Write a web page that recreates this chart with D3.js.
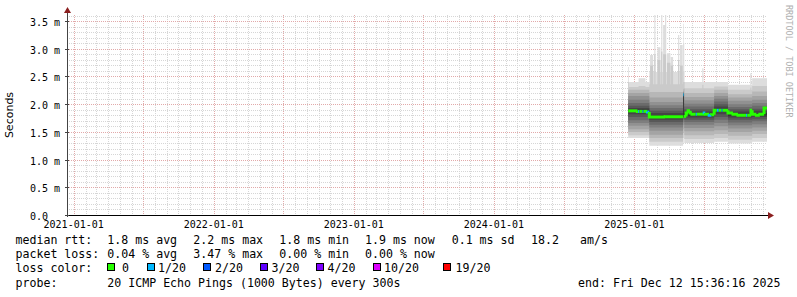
<!DOCTYPE html>
<html>
<head>
<meta charset="utf-8">
<script src="https://cdn.jsdelivr.net/npm/d3@7.9.0/dist/d3.min.js"></script>
<style>
  body { margin: 0; background: #fff; }
  svg { display: block; }
  text { font-family: "DejaVu Sans Mono", monospace; fill: #000; }
</style>
</head>
<body>
<svg id="chart" width="797" height="297"></svg>
<script>
const parse = d3.timeParse("%Y-%m-%dT%H:%M:%S");
const day = s => parse(s.length === 10 ? s + "T00:00:00" : s);

const viewStart = "2020-12-14T15:36:16";
const viewEnd = "2025-12-12T15:36:16";

const yTicks = [0, 0.5, 1.0, 1.5, 2.0, 2.5, 3.0, 3.5];
const yTickLabels = ["0.0", "0.5 m", "1.0 m", "1.5 m", "2.0 m", "2.5 m", "3.0 m", "3.5 m"];

// smoke: 20 sorted pings per period (ms)
const segStart = ["2024-12-16", "2025-02-09", "2025-05-08", "2025-05-09T12:00:00", "2025-07-28", "2025-09-02", "2025-11-04"];
const segPings = [
  [1.39, 1.44, 1.50, 1.55, 1.61, 1.66, 1.71, 1.77, 1.82, 1.86, 1.90, 1.93, 1.97, 2.02, 2.08, 2.15, 2.20, 2.26, 2.31, 2.40],
  [1.25, 1.32, 1.39, 1.45, 1.52, 1.58, 1.63, 1.68, 1.72, 1.76, 1.80, 1.84, 1.88, 1.93, 1.98, 2.04, 2.12, 2.22, 2.36, 2.58],
  [1.30, 1.40, 1.48, 1.55, 1.62, 1.67, 1.71, 1.74, 1.76, 1.77, 2.17, 2.18, 2.19, 2.20, 2.21, 2.22, 2.23, 2.24, 2.26, 3.45],
  [1.78, 1.78, 1.78, 1.78, 1.78, 1.78, 1.78, 1.78, 1.78, 1.78, 1.84, 1.90, 1.96, 2.02, 2.10, 2.18, 2.28, 2.40, 2.60, 3.10],
  [1.32, 1.39, 1.46, 1.53, 1.60, 1.66, 1.72, 1.77, 1.82, 1.86, 1.92, 1.96, 2.00, 2.05, 2.10, 2.15, 2.20, 2.26, 2.32, 2.40],
  [1.29, 1.36, 1.43, 1.50, 1.56, 1.62, 1.67, 1.72, 1.76, 1.79, 1.83, 1.87, 1.91, 1.95, 2.00, 2.06, 2.12, 2.18, 2.26, 2.35],
  [1.32, 1.39, 1.46, 1.52, 1.58, 1.64, 1.69, 1.73, 1.77, 1.80, 1.84, 1.88, 1.92, 1.97, 2.02, 2.08, 2.15, 2.23, 2.33, 2.47]
];
// segment C (after the gap column)
const segCPings = [1.30, 1.37, 1.44, 1.51, 1.57, 1.63, 1.68, 1.72, 1.76, 1.79, 1.83, 1.87, 1.91, 1.96, 2.01, 2.07, 2.13, 2.20, 2.29, 2.40];
const segCStart = "2025-05-11";

// short spikes of the slowest pings
const spikeDate = ["2024-12-16", "2025-01-12", "2025-02-11", "2025-02-22", "2025-03-02", "2025-03-12", "2025-03-17", "2025-03-22",
                   "2025-03-27", "2025-04-06", "2025-04-25", "2025-04-30", "2025-06-27", "2025-10-30"];
const spikeDays = [2, 18, 8, 3, 8, 3, 5, 3, 9, 6, 3, 7, 3, 3];
const spikeP19 = [2.40, 2.33, 2.70, 2.90, 2.80, 2.95, 2.90, 2.90, 2.75, 2.70, 2.80, 2.70, 2.35, 2.30];
const spikeP20 = [2.67, 2.47, 2.89, 3.61, 3.03, 3.61, 3.43, 3.61, 2.92, 2.85, 3.25, 3.07, 2.65, 2.56];

// median rtt (ms) and lost pings out of 20
const medDate = ["2024-12-16", "2025-01-09", "2025-01-11", "2025-01-14", "2025-01-22", "2025-01-25", "2025-02-04",
                 "2025-02-09", "2025-03-22", "2025-05-08", "2025-05-09T12:00:00", "2025-05-16", "2025-05-21", "2025-05-26",
                 "2025-05-31", "2025-06-10", "2025-06-13", "2025-07-02", "2025-07-05", "2025-07-15", "2025-07-21",
                 "2025-07-28", "2025-08-04", "2025-08-09", "2025-08-16", "2025-08-19", "2025-09-02", "2025-09-15",
                 "2025-09-28", "2025-10-19", "2025-10-22", "2025-11-01", "2025-11-04", "2025-11-15", "2025-11-24", "2025-12-05"];
const medValue = [1.88, 1.87, 1.87, 1.87, 1.87, 1.87, 1.86,
                  1.77, 1.775, 2.17, 1.78, 1.84, 1.88, 1.84,
                  1.82, 1.82, 1.82, 1.84, 1.82, 1.80, 1.81,
                  1.89, 1.89, 1.89, 1.89, 1.89, 1.84, 1.82,
                  1.80, 1.80, 1.80, 1.89, 1.82, 1.80, 1.82, 1.93];
const medLoss = [0, 0, 1, 0, 1, 0, 1,
                 0, 0, 1, 0, 0, 0, 0,
                 0, 1, 0, 1, 0, 1, 0,
                 0, 1, 0, 1, 0, 0, 0,
                 0, 1, 0, 0, 0, 0, 0, 0];

const lossLevels = [0, 1, 2, 3, 4, 10, 19];
const lossLabels = ["0", "1/20", "2/20", "3/20", "4/20", "10/20", "19/20"];
const lossColors = ["#26ff00", "#00b8ff", "#0059ff", "#5e00ff", "#7e00ff", "#dd00ff", "#ff0000"];

const rttStats = ["1.8 ms avg", "2.2 ms max", "1.8 ms min", "1.9 ms now", "0.1 ms sd", "18.2", "am/s"];
const lossStats = ["0.04 % avg", "3.47 % max", "0.00 % min", "0.00 % now"];
const probeText = "20 ICMP Echo Pings (1000 Bytes) every 300s";
const endText = "end: Fri Dec 12 15:36:16 2025";

const svg = d3.select("#chart");
const plotL = 67, plotR = 767, plotT = 15, plotB = 215;

const x = d3.scaleTime().domain([day(viewStart), day(viewEnd)]).range([plotL, plotR]);
const y = d3.scaleLinear().domain([0, 3.61]).range([plotB, plotT]);

// grid
const grid = svg.append("g");
const months = d3.timeMonth.range(x.domain()[0], x.domain()[1]);
months.forEach(m => {
  const major = m.getMonth() % 6 === 0;
  const px = Math.round(x(m)) + 0.5;
  grid.append("line")
    .attr("x1", px).attr("x2", px).attr("y1", plotT).attr("y2", plotB)
    .attr("stroke", major ? "#e2aaaa" : "#d6d6d6")
    .attr("stroke-dasharray", "1,1");
});
d3.range(1, 37).forEach(i => {
  const v = i / 10;
  const major = i % 5 === 0;
  const py = Math.round(y(v)) + 0.5;
  grid.append("line")
    .attr("x1", plotL).attr("x2", plotR).attr("y1", py).attr("y2", py)
    .attr("stroke", major ? "#e2aaaa" : "#d6d6d6")
    .attr("stroke-dasharray", "1,1");
});

// build smoke samples
const samples = [];
segStart.forEach((s, i) => samples.push({ date: day(s), pings: segPings[i] }));
samples.push({ date: day(segCStart), pings: segCPings });
samples.sort((a, b) => a.date - b.date);
function baseAt(d) {
  let p = samples[0].pings;
  samples.forEach(s => { if (s.date <= d) p = s.pings; });
  return p;
}
const extra = [];
spikeDate.forEach((s, i) => {
  const d0 = day(s);
  const d1 = d3.timeDay.offset(d0, spikeDays[i]);
  const base = baseAt(d0);
  const p = base.slice();
  p[18] = Math.max(spikeP19[i], p[17]);
  p[19] = spikeP20[i];
  extra.push({ date: d0, pings: p, order: 1 });
  extra.push({ date: d1, pings: baseAt(d1), order: 0 });
});
const all = samples.map(s => ({ ...s, order: 0 })).concat(extra);
all.push({ date: day(viewEnd), pings: segPings[segPings.length - 1], order: 0 });
all.sort((a, b) => (a.date - b.date) || (a.order - b.order));

const smoke = svg.append("g");
for (let k = 0; k < 10; k++) {
  const g = Math.floor(190 / 10 * (10 - (k + 1))) + 50;
  const area = d3.area()
    .x(d => x(d.date))
    .y0(d => y(d.pings[k]))
    .y1(d => y(d.pings[19 - k]))
    .curve(d3.curveStepAfter);
  smoke.append("path")
    .datum(all)
    .attr("d", area)
    .attr("fill", d3.rgb(g, g, g));
}

// median
const lossColor = l => {
  let c = lossColors[0];
  lossLevels.forEach((lv, i) => { if (l >= lv) c = lossColors[i]; });
  return c;
};
const medLine = d3.line().x(d => x(d[0])).y(d => y(d[1]));
const med = svg.append("g");
medDate.forEach((s, i) => {
  const d0 = day(s);
  const d1 = i + 1 < medDate.length ? day(medDate[i + 1]) : day(viewEnd);
  const pts = [];
  if (i > 0 && Math.abs(medValue[i] - medValue[i - 1]) < 0.15) pts.push([d0, medValue[i - 1]]);
  pts.push([d0, medValue[i]], [d1, medValue[i]]);
  med.append("path")
    .attr("d", medLine(pts))
    .attr("fill", "none")
    .attr("stroke", lossColor(medLoss[i]))
    .attr("stroke-width", 3);
});

// axes
svg.append("line").attr("x1", plotL - 2).attr("x2", plotR + 3).attr("y1", plotB + 0.5).attr("y2", plotB + 0.5)
  .attr("stroke", "#000");
svg.append("line").attr("x1", plotL + 0.5).attr("x2", plotL + 0.5).attr("y1", plotB + 2).attr("y2", 10)
  .attr("stroke", "#444");
svg.append("path").attr("d", `M${plotR + 1},${plotB - 3} L${plotR + 7},${plotB + 0.5} L${plotR + 1},${plotB + 4} Z`)
  .attr("fill", "#8b1f1f");
svg.append("path").attr("d", `M${plotL - 3},${plotT - 2} L${plotL + 0.5},${plotT - 8} L${plotL + 4},${plotT - 2} Z`)
  .attr("fill", "#8b1f1f");

yTicks.forEach((v, i) => {
  const py = Math.round(y(v));
  svg.append("line").attr("x1", plotL - 2).attr("x2", plotL + 2).attr("y1", py + 0.5).attr("y2", py + 0.5)
    .attr("stroke", "#444");
  svg.append("text").attr("x", 30).attr("y", py + 4.5)
    .attr("font-size", "10px").text(yTickLabels[i]);
});
d3.timeYear.range(x.domain()[0], x.domain()[1]).forEach(d => {
  svg.append("text").attr("x", x(d)).attr("y", 228)
    .attr("text-anchor", "middle").attr("font-size", "10px")
    .text(d3.timeFormat("%Y-%m-%d")(d));
});

svg.append("text")
  .attr("transform", `translate(13,${(plotT + plotB) / 2}) rotate(-90)`)
  .attr("text-anchor", "middle")
  .style("font-family", "'DejaVu Sans', sans-serif")
  .attr("font-size", "11px")
  .text("Seconds");

svg.append("text")
  .attr("transform", "translate(785.5,5) rotate(90)")
  .attr("font-size", "8.5px")
  .style("fill", "#b0b0b0")
  .text("RRDTOOL / TOBI OETIKER");

// legend
const fs = "11.6px";
const rowY = [244, 258.2, 272.3, 286.5];
const colX = [107.3, 193.3, 279.3, 365, 451.7, 531, 580];
const leg = svg.append("g").attr("font-size", fs);
leg.append("text").attr("x", 15.5).attr("y", rowY[0]).text("median rtt:");
rttStats.forEach((t, i) => leg.append("text").attr("x", colX[i]).attr("y", rowY[0]).text(t));
leg.append("text").attr("x", 15.5).attr("y", rowY[1]).text("packet loss:");
lossStats.forEach((t, i) => leg.append("text").attr("x", colX[i]).attr("y", rowY[1]).text(t));
leg.append("text").attr("x", 15.5).attr("y", rowY[2]).text("loss color:");
const boxX = [107.3, 146.7, 203.3, 260, 316, 372.7, 442.7];
const boxLabelX = [122, 158, 215, 271.5, 327.5, 384, 455.5];
lossLabels.forEach((t, i) => {
  leg.append("rect").attr("x", Math.round(boxX[i]) + 0.5).attr("y", 263.5).attr("width", 7).attr("height", 7)
    .attr("fill", lossColors[i]).attr("stroke", "#000");
  leg.append("text").attr("x", boxLabelX[i]).attr("y", rowY[2]).text(t);
});
leg.append("text").attr("x", 15.5).attr("y", rowY[3]).text("probe:");
leg.append("text").attr("x", colX[0]).attr("y", rowY[3]).text(probeText);
leg.append("text").attr("x", 578).attr("y", rowY[3]).text(endText);
</script>
</body>
</html>
